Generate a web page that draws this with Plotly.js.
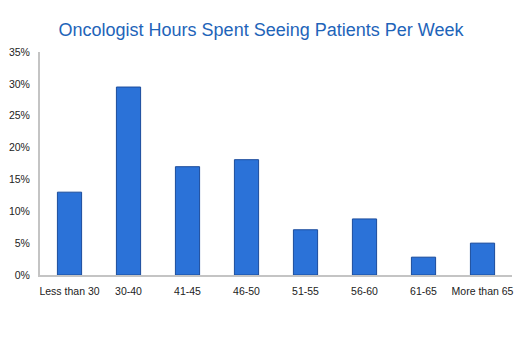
<!DOCTYPE html>
<html>
<head>
<meta charset="utf-8">
<script src="https://cdn.plot.ly/plotly-3.0.1.min.js"></script>
<style>html,body{margin:0;padding:0;background:#fff;}#chart{width:522px;height:355px;}</style>
</head>
<body>
<div id="chart"></div>
<script>
const categories = ["Less than 30", "30-40", "41-45", "46-50", "51-55", "56-60", "61-65", "More than 65"];
const percentValues = [13, 29.5, 17, 18.1, 7.1, 8.8, 2.8, 5.0];
const yTickValues = [0, 5, 10, 15, 20, 25, 30, 35];

const trace = {
  type: 'bar',
  x: categories,
  y: percentValues,
  width: 0.41,
  marker: {color: '#2b72d8', line: {color: '#1b4c9c', width: 1}},
  hoverinfo: 'skip'
};

const layout = {
  width: 522, height: 355,
  margin: {l: 40, r: 10, t: 52, b: 80},
  paper_bgcolor: '#fff', plot_bgcolor: '#fff',
  showlegend: false,
  title: {text: 'Oncologist Hours Spent Seeing Patients Per Week', xref: 'container', x: 0.5, xanchor: 'center', y: 0.915, yanchor: 'middle',
          font: {family: 'Liberation Sans, Arial, sans-serif', size: 18, color: '#1e64b9'}},
  xaxis: {showline: true, linecolor: '#c4c4c4', linewidth: 2, ticks: '', showgrid: false, zeroline: false,
          ticklabelstandoff: 5,
          tickfont: {family: 'Liberation Sans, Arial, sans-serif', size: 10.5, color: '#222'}, fixedrange: true},
  yaxis: {range: [0, 35], tickvals: yTickValues, ticktext: yTickValues.map(v => v + '%'),
          showline: true, linecolor: '#c4c4c4', linewidth: 2, ticks: '', showgrid: false, zeroline: false,
          ticklabelstandoff: 6,
          tickfont: {family: 'Liberation Sans, Arial, sans-serif', size: 10.5, color: '#222'}, fixedrange: true}
};

Plotly.newPlot('chart', [trace], layout, {displayModeBar: false, staticPlot: true});
</script>
</body>
</html>
